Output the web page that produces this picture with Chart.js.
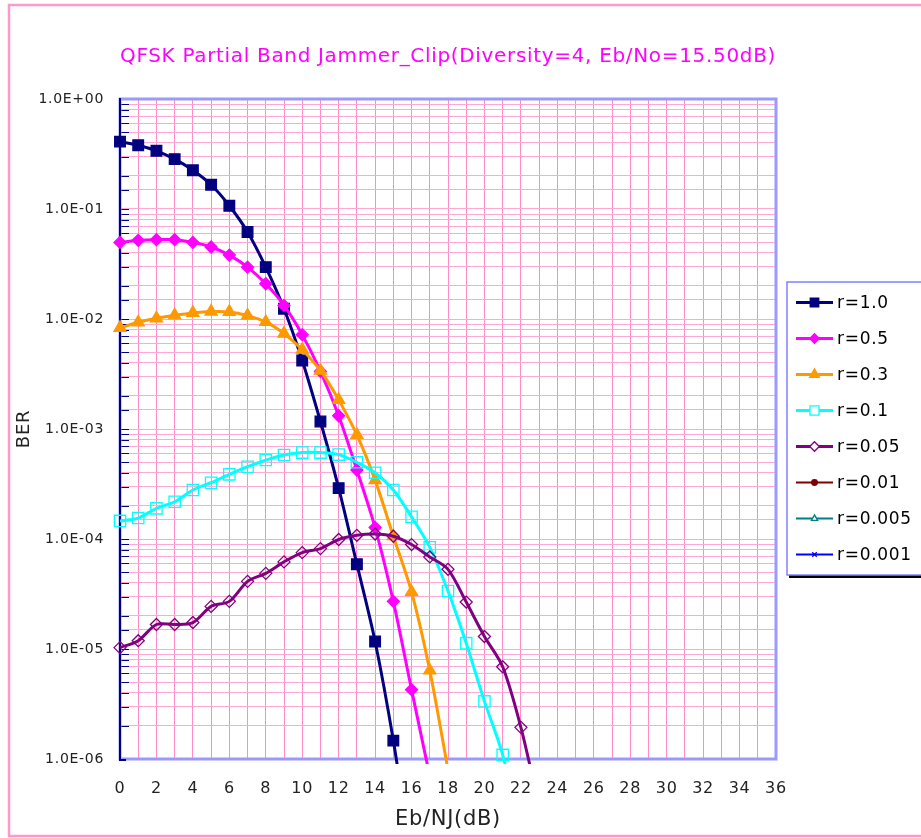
<!DOCTYPE html>
<html>
<head>
<meta charset="utf-8">
<script src="https://cdn.jsdelivr.net/npm/chart.js@4.4.0/dist/chart.umd.min.js"></script>
<style>
  html, body { margin: 0; padding: 0; background: #fff; }
</style>
</head>
<body>
<canvas id="ber-chart" width="921" height="838"></canvas>
<script>
// Eb/NJ (dB), one point per dB
var ebnj = [0,1,2,3,4,5,6,7,8,9,10,11,12,13,14,15,16,17,18,19,20,21,22,23];

var seriesLabels = ["r=1.0", "r=0.5", "r=0.3", "r=0.1", "r=0.05", "r=0.01", "r=0.005", "r=0.001"];

// BER (last value of each falls just below 1E-06)
var ber_r1 = [0.41, 0.38, 0.338, 0.284, 0.225, 0.166, 0.107, 0.0618, 0.0296, 0.0124, 0.0042, 0.00117, 0.00029, 5.9e-5, 1.17e-5, 1.47e-6, 1.2e-7];
var ber_r05 = [0.0497, 0.0519, 0.0526, 0.0526, 0.0497, 0.0451, 0.0381, 0.0296, 0.0209, 0.0133, 0.00721, 0.00334, 0.00132, 4.24e-4, 1.27e-4, 2.71e-5, 4.27e-6, 7e-7];
var ber_r03 = [0.0083, 0.00933, 0.01016, 0.0108, 0.01136, 0.01167, 0.0116, 0.01074, 0.0094, 0.00736, 0.00526, 0.00339, 0.00184, 8.83e-4, 3.43e-4, 1.06e-4, 3.3e-5, 6.38e-6, 8e-7];
var ber_r01 = [1.46e-4, 1.55e-4, 1.9e-4, 2.18e-4, 2.79e-4, 3.25e-4, 3.87e-4, 4.54e-4, 5.22e-4, 5.8e-4, 6.1e-4, 6.1e-4, 5.85e-4, 4.98e-4, 4.0e-4, 2.79e-4, 1.59e-4, 8.4e-5, 3.36e-5, 1.13e-5, 3.34e-6, 1.09e-6, 2e-7];
var ber_r005 = [1.03e-5, 1.19e-5, 1.67e-5, 1.67e-5, 1.74e-5, 2.44e-5, 2.71e-5, 4.12e-5, 4.87e-5, 6.19e-5, 7.52e-5, 8.18e-5, 9.9e-5, 1.08e-4, 1.11e-4, 1.06e-4, 8.9e-5, 6.87e-5, 5.3e-5, 2.67e-5, 1.3e-5, 6.9e-6, 1.94e-6, 3.7e-7];
// no points plotted for these, legend only
var ber_r001 = [];
var ber_r0005 = [];
var ber_r0001 = [];

function pts(arr) {
    return arr.map(function(v, i) { return { x: ebnj[i], y: v }; });
}

function sciLabel(v) {
    var e = Math.log10(v);
    if (Math.abs(e - Math.round(e)) > 1e-6) return "";
    e = Math.round(e);
    var a = Math.abs(e);
    return "1.0E" + (e < 0 ? "-" : "+") + (a < 10 ? "0" : "") + a;
}

function series(i, arr, color, style, radius, fill, lw) {
    return {
        label: seriesLabels[i],
        data: pts(arr),
        borderColor: color,
        backgroundColor: fill,
        borderWidth: lw,
        pointStyle: style,
        pointRadius: radius,
        pointHoverRadius: radius,
        pointBorderColor: color,
        pointBackgroundColor: fill,
        pointBorderWidth: 1.3,
        tension: 0.3,
        order: 10 - i,
        clip: { left: 10, top: 10, right: 10, bottom: 5 }
    };
}

var datasets = [
    series(0, ber_r1, "#000080", "rect", 7.5, "#000080", 3),
    series(1, ber_r05, "#FF00FF", "rectRot", 6, "#FF00FF", 3),
    series(2, ber_r03, "#FF9900", "triangle", 7, "#FF9900", 3),
    series(3, ber_r01, "#00FFFF", "rect", 8, "rgba(255,255,255,0)", 3),
    series(4, ber_r005, "#800080", "rectRot", 6, "rgba(255,255,255,0)", 3),
    series(5, ber_r001, "#800000", "circle", 3.5, "#800000", 2),
    series(6, ber_r0005, "#008080", "triangle", 4.5, "#ffffff", 2),
    series(7, ber_r0001, "#0000FF", "crossRot", 4, "#0000FF", 2)
];

// wide letter spacing like the original chart font
function spaceText(chart) {
    chart.ctx.letterSpacing = "0.7px";
}

// page frame, plot border and inner y tick marks
var framePlugin = {
    id: "framePlugin",
    beforeLayout: spaceText,
    beforeDraw: function(chart) {
        var ctx = chart.ctx;
        spaceText(chart);
        ctx.save();
        ctx.fillStyle = "#fff";
        ctx.fillRect(0, 0, chart.width, chart.height);
        ctx.strokeStyle = "#FF99CC";
        ctx.lineWidth = 2.5;
        ctx.strokeRect(9, 5, chart.width + 20, chart.height - 7);
        ctx.restore();
    },
    beforeDatasetsDraw: function(chart) {
        var ctx = chart.ctx, a = chart.chartArea, ys = chart.scales.y;
        ctx.save();
        ctx.strokeStyle = "#000080";
        ctx.lineWidth = 1;
        ys.ticks.forEach(function(t) {
            var py = Math.round(ys.getPixelForValue(t.value)) + 0.5;
            ctx.beginPath();
            ctx.moveTo(a.left, py);
            ctx.lineTo(a.left + 9, py);
            ctx.stroke();
        });
        ctx.strokeStyle = "#9999FF";
        ctx.lineWidth = 3;
        ctx.strokeRect(a.left, a.top, a.right - a.left, a.bottom - a.top);
        ctx.strokeStyle = "#000080";
        ctx.lineWidth = 2;
        ctx.beginPath();
        ctx.moveTo(a.left, a.top - 1);
        ctx.lineTo(a.left, a.bottom + 1);
        ctx.lineTo(a.left + 6, a.bottom + 1);
        ctx.stroke();
        ctx.restore();
    }
};

// boxed legend to the right of the plot, line sample + marker per series
var boxLegend = {
    id: "boxLegend",
    afterDraw: function(chart) {
        var ctx = chart.ctx, a = chart.chartArea;
        var left = a.right + 11, top = 282, w = 160, h = 293;
        ctx.save();
        ctx.fillStyle = "#000";
        ctx.fillRect(left + 2, top + h, w, 3);
        ctx.fillStyle = "#fff";
        ctx.fillRect(left, top, w, h);
        ctx.strokeStyle = "#8080FF";
        ctx.lineWidth = 1.5;
        ctx.strokeRect(left, top, w, h);
        chart.data.datasets.forEach(function(ds, i) {
            var y = top + 20.5 + i * 36;
            var x0 = left + 9, x1 = left + 46;
            ctx.strokeStyle = ds.borderColor;
            ctx.lineWidth = ds.borderWidth;
            ctx.beginPath();
            ctx.moveTo(x0, y);
            ctx.lineTo(x1, y);
            ctx.stroke();
            ctx.fillStyle = ds.pointBackgroundColor === "rgba(255,255,255,0)" ? "#fff" : ds.pointBackgroundColor;
            ctx.lineWidth = 1.3;
            Chart.helpers.drawPoint(ctx, {
                pointStyle: ds.pointStyle,
                radius: ds.pointRadius * 0.8,
                rotation: 0,
                borderWidth: 1.3
            }, (x0 + x1) / 2, y);
            ctx.fillStyle = "#000";
            ctx.font = "17px 'DejaVu Sans'";
            ctx.textBaseline = "middle";
            ctx.textAlign = "left";
            ctx.fillText(ds.label, x1 + 4, y + 1);
        });
        ctx.restore();
    }
};

var ctx1 = document.getElementById("ber-chart");

var chart1 = new Chart(ctx1, {
    type: "line",
    data: { datasets: datasets },
    plugins: [framePlugin, boxLegend],
    options: {
        responsive: false,
        animation: false,
        devicePixelRatio: 1,
        layout: { padding: { left: 10, right: 145, top: 0, bottom: 0 } },
        plugins: {
            legend: { display: false },
            tooltip: { enabled: false },
            title: {
                display: true,
                fullSize: false,
                text: "QFSK Partial Band Jammer_Clip(Diversity=4, Eb/No=15.50dB)",
                color: "#FF00FF",
                font: { family: "'DejaVu Sans'", size: 20, weight: "normal" },
                padding: { top: 45, bottom: 30 }
            }
        },
        scales: {
            x: {
                type: "linear",
                min: 0,
                max: 36,
                afterFit: function(scale) { scale.height = 79; },
                border: { display: false },
                grid: { color: "#FF8CC6", drawTicks: false, lineWidth: 1 },
                ticks: {
                    stepSize: 1,
                    autoSkip: false,
                    maxRotation: 0,
                    padding: 20,
                    color: "#222",
                    font: { family: "'DejaVu Sans'", size: 16 },
                    callback: function(v) { return v % 2 === 0 ? String(v) : ""; }
                },
                title: {
                    display: true,
                    text: "Eb/NJ(dB)",
                    color: "#222",
                    font: { family: "'DejaVu Sans'", size: 21 },
                    padding: { top: 6, bottom: 6 }
                }
            },
            y: {
                type: "logarithmic",
                min: 1e-6,
                max: 1,
                afterFit: function(scale) { scale.width = 110; },
                border: { display: false },
                grid: { color: "#FFA8D4", drawTicks: false, lineWidth: 1 },
                ticks: {
                    autoSkip: false,
                    padding: 16,
                    color: "#222",
                    font: { family: "'DejaVu Sans'", size: 14 },
                    callback: sciLabel
                },
                title: {
                    display: true,
                    text: "BER",
                    color: "#222",
                    font: { family: "'DejaVu Sans'", size: 18 },
                    padding: { top: 4, bottom: 4 }
                }
            }
        }
    }
});
</script>
</body>
</html>
